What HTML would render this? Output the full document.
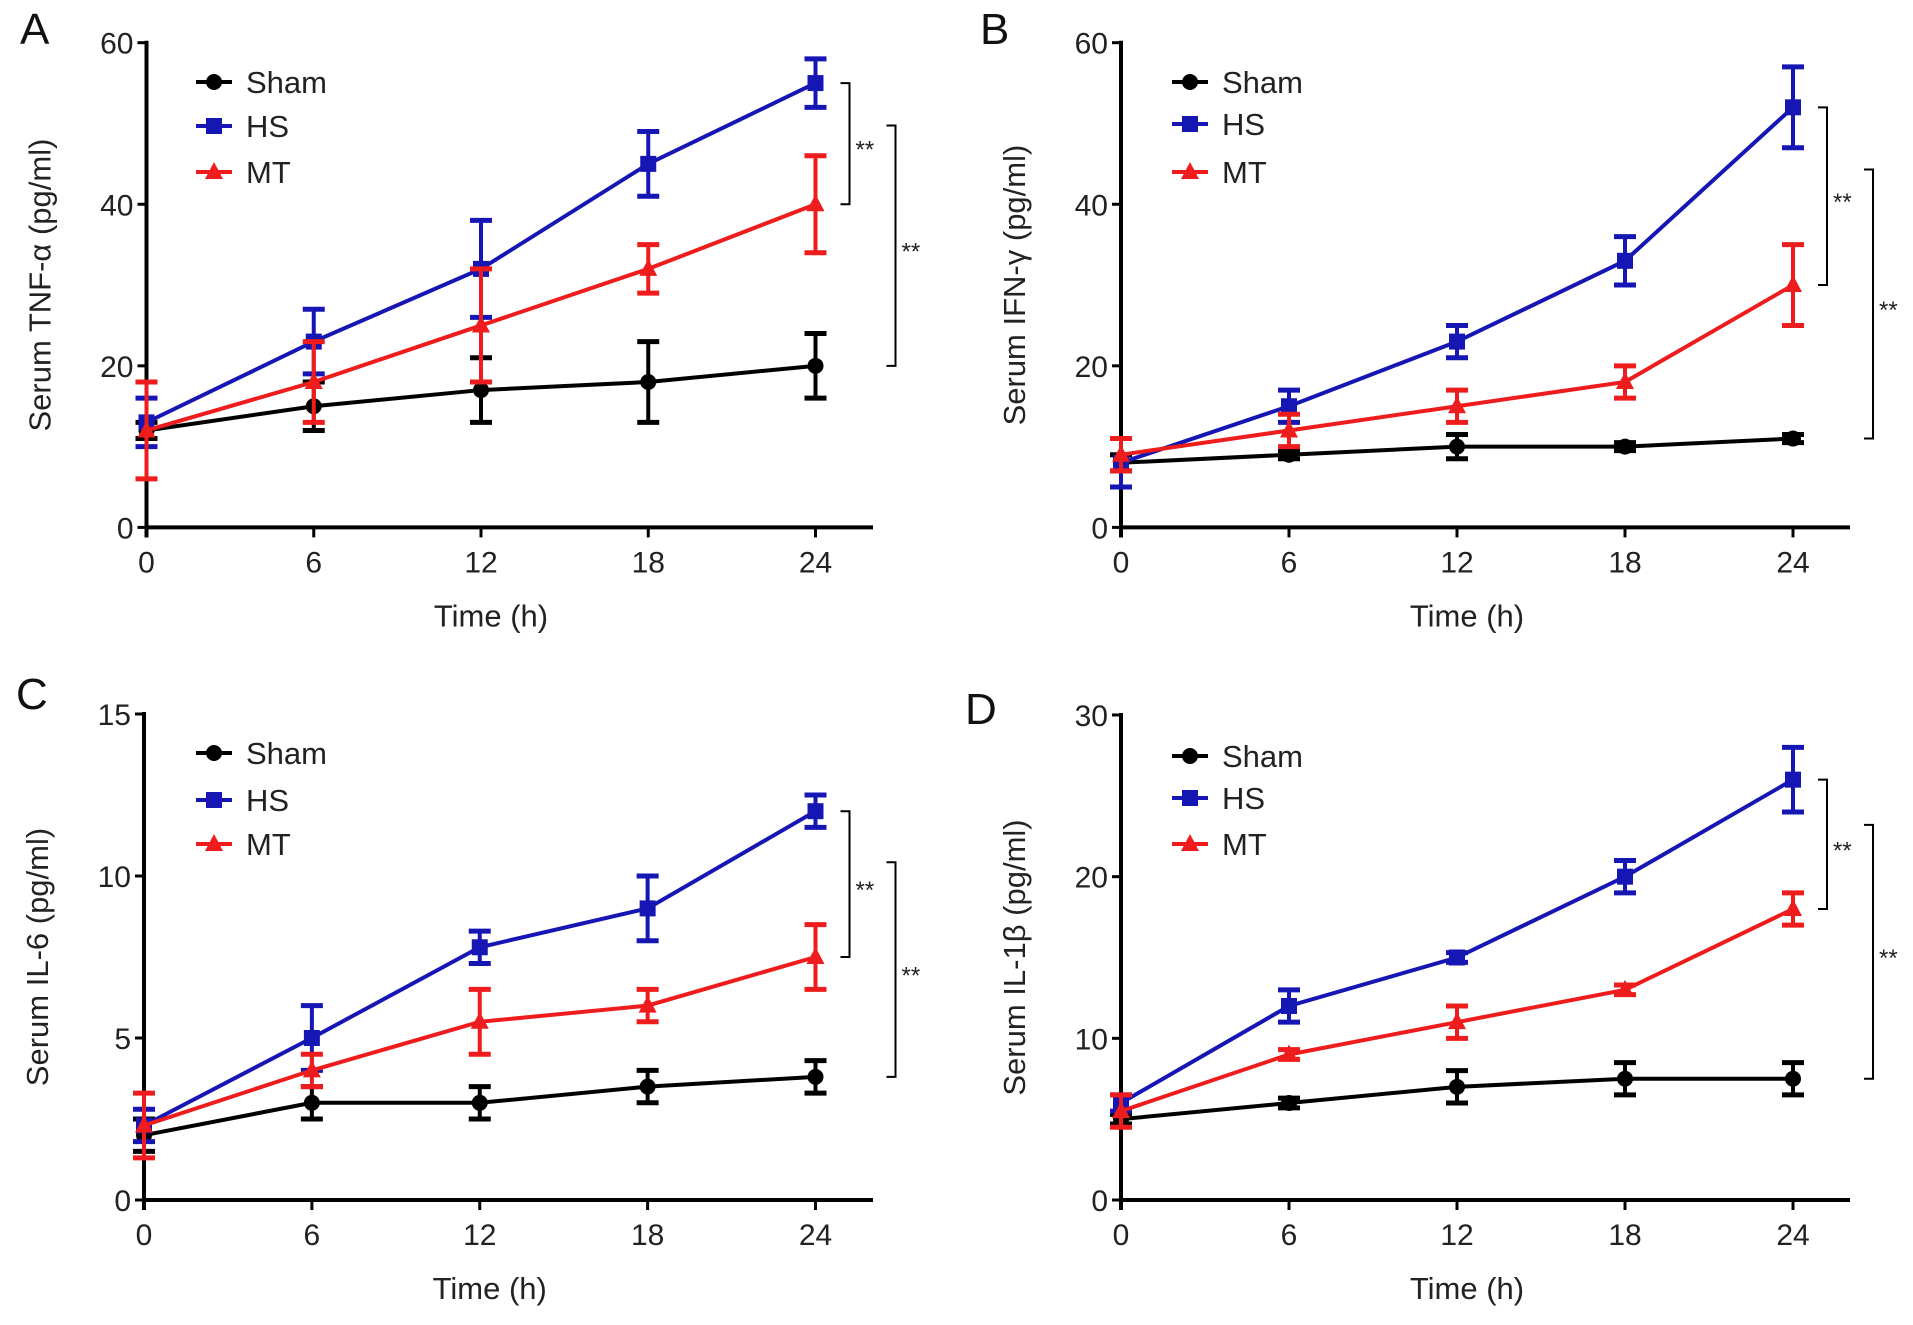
<!DOCTYPE html>
<html><head><meta charset="utf-8"><style>
html,body{margin:0;padding:0;background:#fff;}
svg{display:block;font-family:"Liberation Sans",sans-serif;}
</style></head><body>
<svg id="fig" width="1913" height="1325" viewBox="0 0 1913 1325"></svg>
<script>
const xTicks = [0, 6, 12, 18, 24];
const seriesNames = ["Sham", "HS", "MT"];
const aSham = [12, 15, 17, 18, 20], aShamErr = [1, 3, 4, 5, 4];
const aHS = [13, 23, 32, 45, 55], aHSErr = [3, 4, 6, 4, 3];
const aMT = [12, 18, 25, 32, 40], aMTErr = [6, 5, 7, 3, 6];
const bSham = [8, 9, 10, 10, 11], bShamErr = [1, 0.5, 1.5, 0.5, 0.5];
const bHS = [8, 15, 23, 33, 52], bHSErr = [3, 2, 2, 3, 5];
const bMT = [9, 12, 15, 18, 30], bMTErr = [2, 2, 2, 2, 5];
const cSham = [2, 3, 3, 3.5, 3.8], cShamErr = [0.5, 0.5, 0.5, 0.5, 0.5];
const cHS = [2.3, 5, 7.8, 9, 12], cHSErr = [0.5, 1, 0.5, 1, 0.5];
const cMT = [2.3, 4, 5.5, 6, 7.5], cMTErr = [1, 0.5, 1, 0.5, 1];
const dSham = [5, 6, 7, 7.5, 7.5], dShamErr = [0.3, 0.3, 1, 1, 1];
const dHS = [6, 12, 15, 20, 26], dHSErr = [0.5, 1, 0.3, 1, 2];
const dMT = [5.5, 9, 11, 13, 18], dMTErr = [1, 0.3, 1, 0.3, 1];
const aYTicks = [0, 20, 40, 60], bYTicks = [0, 20, 40, 60], cYTicks = [0, 5, 10, 15], dYTicks = [0, 10, 20, 30];

const NS = "http://www.w3.org/2000/svg";
const svg = document.getElementById("fig");
function mk(tag, attrs, parent) {
  const e = document.createElementNS(NS, tag);
  for (const k in attrs) e.setAttribute(k, attrs[k]);
  (parent || svg).appendChild(e);
  return e;
}
const colors = ["#000000", "#1616b4", "#ee1c1c"];

function panel(cfg) {
  const g = mk("g", {});
  
  
  const ymax = cfg.yTicks[cfg.yTicks.length - 1];
  const X = v => cfg.x0 + (v / 24) * (cfg.x24 - cfg.x0);
  const Y = v => cfg.yb - (v / ymax) * (cfg.yb - cfg.yt);
  const t = mk("text", {x: cfg.lx, y: cfg.ly, "font-size": 44, fill: "#111"}, g);
  t.textContent = cfg.letter;
  
  
  const ya = mk("line", {x1: cfg.x0, y1: cfg.yt - 2, x2: cfg.x0, y2: cfg.yb + 10, stroke: "#000", "stroke-width": 4}, g);
  
  
  const xa = mk("line", {x1: cfg.x0 - 2, y1: cfg.yb, x2: cfg.xend, y2: cfg.yb, stroke: "#000", "stroke-width": 4}, g);
  
  
  cfg.yTicks.forEach(v => {
    mk("line", {x1: cfg.x0 - 9, y1: Y(v), x2: cfg.x0, y2: Y(v), stroke: "#000", "stroke-width": 3}, g);
    const tl = mk("text", {x: cfg.x0 - 13, y: Y(v) + 11, "font-size": 30, "text-anchor": "end", fill: "#222"}, g);
    tl.textContent = v;
    
    
  });
  xTicks.forEach(v => {
    mk("line", {x1: X(v), y1: cfg.yb, x2: X(v), y2: cfg.yb + 10, stroke: "#000", "stroke-width": 3}, g);
    const tl = mk("text", {x: X(v), y: cfg.yb + 45, "font-size": 30, "text-anchor": "middle", fill: "#222"}, g);
    tl.textContent = v;
    
    
  });
  const xl = mk("text", {x: (cfg.x0 + cfg.x24) / 2 + 10, y: cfg.yb + 99, "font-size": 31, "text-anchor": "middle", fill: "#222"}, g);
  xl.textContent = "Time (h)";
  
  
  const ycx = cfg.x0 - 96, ycy = (cfg.yt + cfg.yb) / 2;
  const yl = mk("text", {x: ycx, y: ycy, "font-size": 31, "text-anchor": "middle", fill: "#222", transform: `rotate(-90 ${ycx} ${ycy})`}, g);
  yl.textContent = cfg.ylabel;
  
  
  cfg.series.forEach((s, i) => {
    const sg = mk("g", {}, g);
    
    
    const c = colors[i];
    mk("polyline", {points: s.v.map((v, j) => X(xTicks[j]) + "," + Y(v)).join(" "), fill: "none", stroke: c, "stroke-width": 4}, sg);
    s.v.forEach((v, j) => {
      const x = X(xTicks[j]), e = s.e[j];
      mk("line", {x1: x, y1: Y(v - e), x2: x, y2: Y(v + e), stroke: c, "stroke-width": 4}, sg);
      mk("line", {x1: x - 11, y1: Y(v + e), x2: x + 11, y2: Y(v + e), stroke: c, "stroke-width": 5}, sg);
      mk("line", {x1: x - 11, y1: Y(v - e), x2: x + 11, y2: Y(v - e), stroke: c, "stroke-width": 5}, sg);
      marker(sg, i, x, Y(v), c);
    });
  });
  cfg.legY.forEach((ly, i) => {
    const lg = mk("g", {}, g);
    
    
    mk("line", {x1: cfg.legX, y1: ly, x2: cfg.legX + 36, y2: ly, stroke: colors[i], "stroke-width": 4}, lg);
    marker(lg, i, cfg.legX + 18, ly, colors[i]);
    const lt = mk("text", {x: cfg.legX + 50, y: ly + 11, "font-size": 31, fill: "#222"}, lg);
    lt.textContent = seriesNames[i];
  });
  const hsTop = Y(cfg.series[1].v[4]), mtY = Y(cfg.series[2].v[4]), shY = Y(cfg.series[0].v[4]);
  const b1 = X(24) + 34, b2 = X(24) + 80;
  const mid = hsTop + (mtY - hsTop) * 0.35;
  bracket(g, b1, hsTop, mtY);
  bracket(g, b2, mid, shY);
}
function bracket(g, x, y1, y2) {
  const p = mk("path", {d: `M${x - 9},${y1} H${x} V${y2} H${x - 9}`, fill: "none", stroke: "#000", "stroke-width": 2}, g);
  
  
  const s = mk("text", {x: x + 6, y: (y1 + y2) / 2 + 14, "font-size": 24, fill: "#222"}, g);
  s.textContent = "**";
}
function marker(g, i, x, y, c) {
  if (i === 0) mk("circle", {cx: x, cy: y, r: 8, fill: c}, g);
  else if (i === 1) mk("rect", {x: x - 8, y: y - 8, width: 16, height: 16, fill: c}, g);
  else mk("polygon", {points: `${x},${y - 10} ${x + 9},${y + 7} ${x - 9},${y + 7}`, fill: c}, g);
}

panel({letter: "A", lx: 20, ly: 44, x0: 146.5, x24: 815.5, xend: 873, yt: 42.7, yb: 527.4, yTicks: aYTicks,
  ylabel: "Serum TNF-α (pg/ml)", legX: 196, legY: [82, 126, 172],
  series: [{v: aSham, e: aShamErr}, {v: aHS, e: aHSErr}, {v: aMT, e: aMTErr}]});
panel({letter: "B", lx: 980, ly: 44, x0: 1121, x24: 1793, xend: 1850, yt: 42.7, yb: 527.4, yTicks: bYTicks,
  ylabel: "Serum IFN-γ (pg/ml)", legX: 1172, legY: [82, 124, 172],
  series: [{v: bSham, e: bShamErr}, {v: bHS, e: bHSErr}, {v: bMT, e: bMTErr}]});
panel({letter: "C", lx: 16, ly: 709, x0: 144, x24: 815.5, xend: 873, yt: 714, yb: 1200, yTicks: cYTicks,
  ylabel: "Serum IL-6 (pg/ml)", legX: 196, legY: [753, 800, 844],
  series: [{v: cSham, e: cShamErr}, {v: cHS, e: cHSErr}, {v: cMT, e: cMTErr}]});
panel({letter: "D", lx: 965, ly: 724, x0: 1121, x24: 1793, xend: 1850, yt: 715, yb: 1200, yTicks: dYTicks,
  ylabel: "Serum IL-1β (pg/ml)", legX: 1172, legY: [756, 798, 844],
  series: [{v: dSham, e: dShamErr}, {v: dHS, e: dHSErr}, {v: dMT, e: dMTErr}]});
</script>
</body></html>
